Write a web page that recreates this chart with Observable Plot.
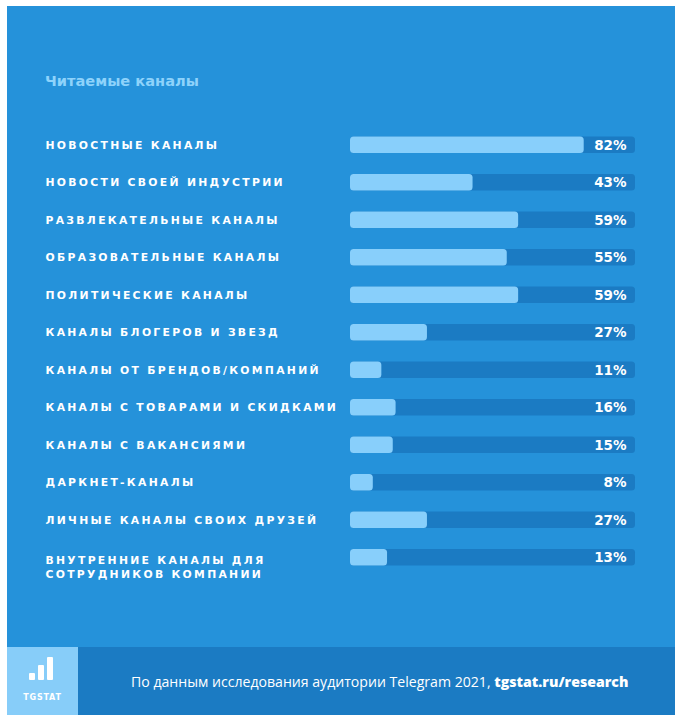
<!DOCTYPE html>
<html>
<head>
<meta charset="utf-8">
<script src="https://cdn.jsdelivr.net/npm/d3@7"></script>
<script src="https://cdn.jsdelivr.net/npm/@observablehq/plot@0.6"></script>
<style>
  html, body { margin: 0; padding: 0; background: #ffffff; }
  body { width: 675px; height: 715px; position: relative; overflow: hidden; }
  #card { position: absolute; left: 7px; top: 6px; width: 668px; height: 641px; background: #2592DA; }
  #title { position: absolute; left: 38px; top: 66px; font-family: "DejaVu Sans", sans-serif; font-weight: bold; font-size: 14.6px; color: #8ED3FB; }
  #chart { position: absolute; left: 0; top: 0; }
  #footer { position: absolute; left: 7px; top: 647px; width: 668px; height: 68px; background: #1B7BC3; }
  #logo { position: absolute; left: 0; top: 0; width: 71px; height: 68px; background: #87CDF9; }
  .lb { position: absolute; background: #ffffff; border-radius: 1px; }
  #logotext { position: absolute; left: 0; width: 71px; top: 46px; text-align: center; font-family: "DejaVu Sans", sans-serif; font-weight: bold; font-size: 8px; letter-spacing: 0.8px; color: #ffffff; }
  #caption { position: absolute; left: 124px; top: 25px; font-family: "Open Sans", sans-serif; font-size: 14.1px; color: #ffffff; white-space: nowrap; }
  #caption b { font-weight: 800; }
</style>
</head>
<body>
<div id="card">
  <div id="title">Читаемые каналы</div>
  <div id="chart"></div>
</div>
<div id="footer">
  <div id="logo">
    <div class="lb" style="left:22px;top:26px;width:6px;height:7px"></div>
    <div class="lb" style="left:31px;top:18px;width:6px;height:15px"></div>
    <div class="lb" style="left:40px;top:10px;width:6px;height:23px"></div>
    <div id="logotext">TGSTAT</div>
  </div>
  <div id="caption">По данным исследования аудитории Telegram 2021, <b>tgstat.ru/research</b></div>
</div>
<script>
const categories = [
  "НОВОСТНЫЕ КАНАЛЫ",
  "НОВОСТИ СВОЕЙ ИНДУСТРИИ",
  "РАЗВЛЕКАТЕЛЬНЫЕ КАНАЛЫ",
  "ОБРАЗОВАТЕЛЬНЫЕ КАНАЛЫ",
  "ПОЛИТИЧЕСКИЕ КАНАЛЫ",
  "КАНАЛЫ БЛОГЕРОВ И ЗВЕЗД",
  "КАНАЛЫ ОТ БРЕНДОВ/КОМПАНИЙ",
  "КАНАЛЫ С ТОВАРАМИ И СКИДКАМИ",
  "КАНАЛЫ С ВАКАНСИЯМИ",
  "ДАРКНЕТ-КАНАЛЫ",
  "ЛИЧНЫЕ КАНАЛЫ СВОИХ ДРУЗЕЙ",
  "ВНУТРЕННИЕ КАНАЛЫ ДЛЯ\nСОТРУДНИКОВ КОМПАНИИ"
];
const values = [82, 43, 59, 55, 59, 27, 11, 16, 15, 8, 27, 13];
const maxValue = 100;

const rows = categories.map((c, i) => ({category: c, value: values[i], max: maxValue, label: values[i] + "%"}));
const single = rows.filter(d => !d.category.includes("\n"));
const multi = rows.filter(d => d.category.includes("\n"));

const inset = 10.5;
const chart = Plot.plot({
  width: 668,
  height: 641,
  marginLeft: 343,
  marginRight: 40,
  marginTop: 120,
  marginBottom: 71,
  style: {background: "transparent", fontFamily: "DejaVu Sans, sans-serif", overflow: "visible"},
  x: {domain: [0, maxValue], axis: null},
  y: {domain: categories, axis: null, padding: 0, round: false},
  marks: [
    Plot.barX(rows, {x1: 0, x2: "max", y: "category", fill: "#1B7BC3", rx: 3.5, insetTop: inset, insetBottom: inset}),
    Plot.barX(rows, {x1: 0, x2: "value", y: "category", fill: "#88CFFB", rx: 3.5, insetTop: inset, insetBottom: inset}),
    Plot.text(rows, {x: "max", y: "category", text: "label", textAnchor: "end", dx: -9, fill: "#ffffff", fontSize: 13.5, fontWeight: "bold"}),
    Plot.text(single, {y: "category", text: "category", frameAnchor: "left", dx: -305, textAnchor: "start", fill: "#ffffff", fontSize: 10.8, fontWeight: "bold"}),
    Plot.text(multi, {y: "category", text: "category", frameAnchor: "left", dx: -305, dy: -4.2, lineAnchor: "top", lineHeight: 1.3, textAnchor: "start", fill: "#ffffff", fontSize: 10.8, fontWeight: "bold"})
  ]
});
d3.select(chart).selectAll("text")
  .filter(function() { return !/%$/.test(this.textContent); })
  .style("letter-spacing", "2.3px");
document.getElementById("chart").appendChild(chart);
</script>
</body>
</html>
